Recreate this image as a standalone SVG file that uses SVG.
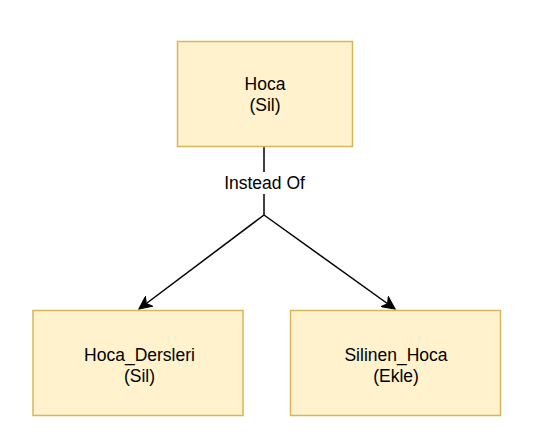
<svg xmlns="http://www.w3.org/2000/svg" width="538" height="446" viewBox="0 0 538 446">
<defs>
<style>
.box{fill:#fff2cc;stroke:#d6b656;stroke-width:1.5}
.t{font-family:"Liberation Sans",Arial,sans-serif;font-size:17.5px;fill:#000;text-anchor:middle}
.edge{stroke:#000;stroke-width:1.5;fill:none}
</style>
<marker id="arr" markerUnits="userSpaceOnUse" markerWidth="15" markerHeight="13" refX="13" refY="6.5" orient="auto" viewBox="0 0 15 13">
<path d="M0.5,0.5 L13,6.5 L0.5,12.5 L4,6.5 Z" fill="#000" stroke="#000" stroke-width="1.2" stroke-linejoin="miter"/>
</marker>
</defs>
<rect width="538" height="446" fill="#ffffff"/>
<g id="connectors">
<path class="edge" d="M264,146 L264,215"/>
<path class="edge" d="M264,215 L139,309" marker-end="url(#arr)"/>
<path class="edge" d="M264,215 L395,309" marker-end="url(#arr)"/>
<rect x="222" y="172" width="84" height="22" fill="#ffffff"/>
<text class="t" x="264.5" y="189">Instead Of</text>
</g>
<g id="hoca">
<rect class="box" x="177.5" y="41.5" width="175" height="105"/>
<text class="t" x="265" y="89.5">Hoca</text>
<text class="t" x="265" y="110.5">(Sil)</text>
</g>
<g id="hoca_dersleri">
<rect class="box" x="33" y="310.5" width="210" height="105"/>
<text class="t" x="139.5" y="361">Hoca_Dersleri</text>
<text class="t" x="139.5" y="382">(Sil)</text>
</g>
<g id="silinen_hoca">
<rect class="box" x="290.5" y="310.5" width="210" height="105"/>
<text class="t" x="396" y="361">Silinen_Hoca</text>
<text class="t" x="396" y="382">(Ekle)</text>
</g>
</svg>
